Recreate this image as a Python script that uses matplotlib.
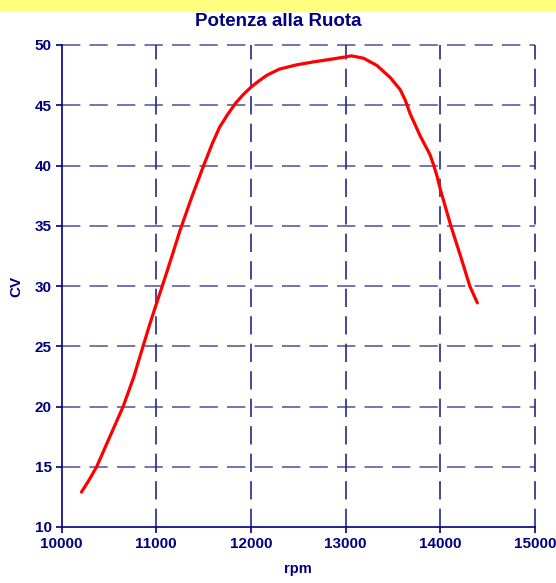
import matplotlib
matplotlib.use("Agg")
import matplotlib.pyplot as plt
from matplotlib.patches import Rectangle

# curve
rpm = [10210, 10290, 10370, 10510, 10650, 10760, 10860, 10930, 11000, 11080,
       11170, 11250, 11380, 11500, 11590, 11670, 11750, 11840, 11920, 12000,
       12080, 12170, 12300, 12480, 12660, 12830, 12990, 13060, 13190, 13330,
       13470, 13575, 13630, 13680, 13790, 13890, 13930, 13965, 14000, 14110,
       14220, 14310, 14390]
cv = [12.9, 13.9, 15.0, 17.5, 20.0, 22.4, 25.0, 26.8, 28.5, 30.4,
      32.6, 34.6, 37.5, 40.0, 41.8, 43.2, 44.2, 45.2, 45.9, 46.5,
      47.0, 47.5, 48.0, 48.35, 48.6, 48.8, 49.0, 49.1, 48.9, 48.3,
      47.3, 46.3, 45.4, 44.3, 42.4, 40.9, 40.0, 39.1, 38.0, 35.0,
      32.3, 30.0, 28.6]

x_ticks = [10000, 11000, 12000, 13000, 14000, 15000]
y_ticks = [10, 15, 20, 25, 30, 35, 40, 45, 50]

NAVY = "#000080"
plt.rcParams['font.family'] = ['Liberation Sans', 'DejaVu Sans']

fig = plt.figure(figsize=(5.56, 5.83), dpi=100)
fig.patch.set_facecolor("white")
# yellow band across the top
fig.patches.append(Rectangle((0, 1 - 12 / 583), 1, 12 / 583, transform=fig.transFigure,
                             facecolor="#FFFF80", edgecolor="none", zorder=0))

ax = fig.add_axes([61.6 / 556, 1 - 527 / 583, (535.1 - 61.6) / 556, (527 - 45) / 583])
ax.set_facecolor("white")

ax.plot(rpm, cv, color="#FF0000", lw=2.3, solid_joinstyle="round",
        solid_capstyle="round", zorder=3)

ax.set_xlim(10000, 15000)
ax.set_ylim(10, 50)
ax.set_xticks(x_ticks)
ax.set_yticks(y_ticks)

# dashed grid, horizontal lighter than vertical
for y in y_ticks[1:]:
    ax.axhline(y, color="#5c5ca8", lw=1.2, ls=(0, (11, 5.5)), zorder=1, clip_on=False)
for x in x_ticks[1:]:
    ax.axvline(x, color="#28288a", lw=1.2, ls=(0, (11, 5.5)), zorder=1, clip_on=False)

for side in ("top", "right"):
    ax.spines[side].set_visible(False)
for side in ("left", "bottom"):
    ax.spines[side].set_color(NAVY)
    ax.spines[side].set_linewidth(1.2)

ax.tick_params(direction="out", length=4, width=1.2, color=NAVY,
               labelcolor=NAVY, labelsize=11, pad=3)
for lab in ax.get_xticklabels() + ax.get_yticklabels():
    lab.set_fontweight("bold")

ax.set_xlabel("rpm", color=NAVY, fontsize=10.5, fontweight="bold", labelpad=8)
ax.set_ylabel("CV", color=NAVY, fontsize=11, fontweight="bold", labelpad=8)

fig.text(0.5, 1 - 21 / 583, "Potenza alla Ruota", ha="center", va="center",
         color=NAVY, fontsize=13.5, fontweight="bold")

fig.savefig("out.png", dpi=100)
